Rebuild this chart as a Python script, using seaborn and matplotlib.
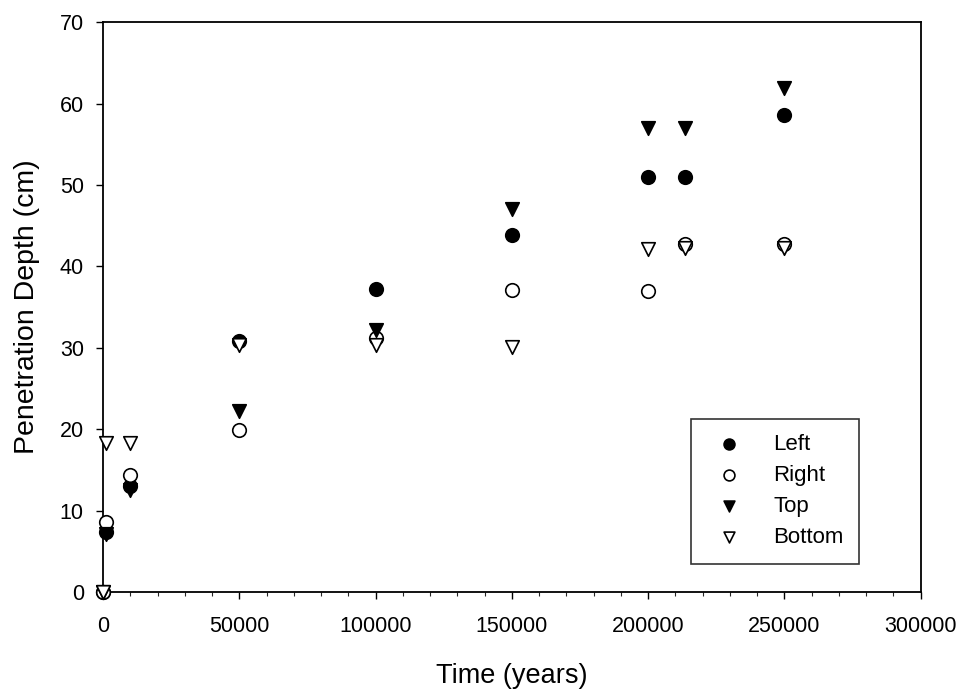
import matplotlib
matplotlib.use('Agg')
import matplotlib.pyplot as plt
from matplotlib.ticker import MultipleLocator
import numpy as np
import pandas as pd
import seaborn as sns

# Values
time_years = [0, 1000, 10000, 50000, 100000, 150000, 200000, 213500, 250000]
left = [0, 7.4, 13.0, 30.8, 37.2, 43.9, 51.0, 51.0, 58.6]
right = [0, 8.6, 14.4, 19.9, 31.2, 37.1, 37.0, 42.8, 42.7]
top = [0, 7.2, 12.5, 22.2, 32.2, 47.1, 57.0, 57.0, 61.9]
bottom = [0, 18.3, 18.3, 30.3, 30.3, 30.1, 42.2, 42.3, 42.3]

series = {'Left': left, 'Right': right, 'Top': top, 'Bottom': bottom}
styles = {
    'Left': dict(marker='o', facecolor='black'),
    'Right': dict(marker='o', facecolor='white'),
    'Top': dict(marker='v', facecolor='black'),
    'Bottom': dict(marker='v', facecolor='white'),
}

df = pd.DataFrame({'time': np.tile(time_years, len(series)),
                   'depth': np.concatenate([series[k] for k in series]),
                   'side': np.repeat(list(series), len(time_years))})

sns.set_style('white')
plt.rcParams['font.family'] = ['Liberation Sans', 'DejaVu Sans']
plt.rcParams['text.color'] = 'black'
plt.rcParams['axes.labelcolor'] = 'black'

fig = plt.figure(figsize=(9.56, 6.91), dpi=100)
ax = fig.add_axes([0.108, 0.143, 0.855, 0.825])

for name in series:
    sub = df[df['side'] == name]
    st = styles[name]
    sns.scatterplot(data=sub, x='time', y='depth', ax=ax, marker=st['marker'],
                    color=st['facecolor'], edgecolor='black', linewidth=1.2,
                    s=95, label=name, zorder=3, clip_on=False)

ax.set_xlim(0, 300000)
ax.set_ylim(0, 70)
ax.xaxis.set_major_locator(MultipleLocator(50000))
ax.xaxis.set_minor_locator(MultipleLocator(10000))
ax.yaxis.set_major_locator(MultipleLocator(10))
ax.tick_params(axis='both', which='major', direction='out', length=5, width=1,
               labelsize=15.5, colors='black', bottom=True, left=True)
ax.tick_params(axis='x', which='major', pad=12)
ax.tick_params(axis='y', which='major', pad=9)
ax.tick_params(axis='x', which='minor', direction='out', length=3, width=0.8, bottom=True)
for sp in ax.spines.values():
    sp.set_color('black')
    sp.set_linewidth(1.3)

ax.set_xlabel('Time (years)', fontsize=19.5, labelpad=19)
ax.set_ylabel('Penetration Depth (cm)', fontsize=20.5, labelpad=14)

leg = ax.legend(loc='lower right', bbox_to_anchor=(0.925, 0.05), fontsize=16,
                frameon=True, fancybox=False, edgecolor='black', borderpad=0.7,
                labelspacing=0.45, handletextpad=1.0, borderaxespad=0,
                markerscale=0.8)
leg.get_frame().set_linewidth(1.2)

fig.savefig('out.png', dpi=100)
